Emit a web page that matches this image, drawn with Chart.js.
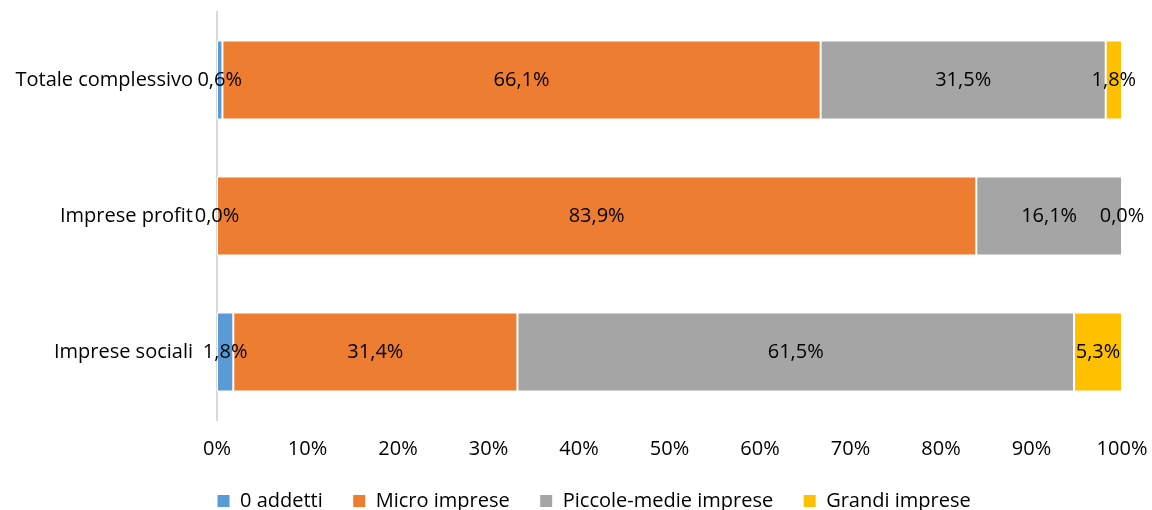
<!DOCTYPE html>
<html>
<head>
<meta charset="utf-8">
<script src="https://cdn.jsdelivr.net/npm/chart.js@4/dist/chart.umd.min.js"></script>
<style>
  html, body { margin: 0; padding: 0; background: #fff; }
  #wrap { width: 1152px; height: 510px; position: relative; }
</style>
</head>
<body>
<div id="wrap"><canvas id="chart"></canvas></div>
<script>
// categories and shares (%) per company size
const categories = ['Totale complessivo', 'Imprese profit', 'Imprese sociali'];
const zeroAddetti = [0.6, 0.0, 1.8];
const microImprese = [66.1, 83.9, 31.4];
const piccoleMedie = [31.5, 16.1, 61.5];
const grandiImprese = [1.8, 0.0, 5.3];
const xTicks = [0, 10, 20, 30, 40, 50, 60, 70, 80, 90, 100];

const FONT = "'Open Sans', 'Noto Sans', sans-serif";
const LEGEND_PAD = 30;

// writes the value in the middle of each segment, e.g. 66,1%
const segmentLabels = {
  id: 'segmentLabels',
  afterDatasetsDraw(chart) {
    const ctx = chart.ctx;
    ctx.save();
    ctx.font = '20px ' + FONT;
    ctx.fillStyle = '#000';
    ctx.textAlign = 'center';
    ctx.textBaseline = 'middle';
    chart.data.datasets.forEach((ds, i) => {
      chart.getDatasetMeta(i).data.forEach((bar, j) => {
        const text = ds.data[j].toFixed(1).replace('.', ',') + '%';
        ctx.fillText(text, (bar.x + bar.base) / 2, bar.y);
      });
    });
    ctx.restore();
  }
};

// short legend strip at the bottom, starting under the plot's left edge
const legendPlacement = {
  id: 'legendPlacement',
  beforeInit(chart) {
    const fit = chart.legend.fit;
    chart.legend.fit = function () {
      fit.call(this);
      this.height = 49;
    };
  },
  afterLayout(chart) {
    const lg = chart.legend;
    const w = lg.right - lg.left;
    lg.left = chart.chartArea.left - LEGEND_PAD;
    lg.right = lg.left + w;
  }
};

// tick labels should not push the plot area inwards
function noEdgePadding(scale) {
  scale.paddingTop = 0;
  scale.paddingBottom = 0;
  scale.paddingLeft = 0;
  scale.paddingRight = 0;
}

function makeSet(label, data, color) {
  return {
    label: label,
    data: data,
    backgroundColor: color,
    borderColor: '#ffffff',
    borderWidth: 1,
    borderSkipped: false,
    barPercentage: 0.58,
    categoryPercentage: 1.0
  };
}

new Chart(document.getElementById('chart'), {
  type: 'bar',
  data: {
    labels: categories,
    datasets: [
      makeSet('0 addetti', zeroAddetti, '#5B9BD5'),
      makeSet('Micro imprese', microImprese, '#ED7D31'),
      makeSet('Piccole-medie imprese', piccoleMedie, '#A5A5A5'),
      makeSet('Grandi imprese', grandiImprese, '#FFC000')
    ]
  },
  options: {
    indexAxis: 'y',
    responsive: true,
    maintainAspectRatio: false,
    animation: false,
    layout: { padding: { left: 0, right: 30, top: 12, bottom: 0 } },
    scales: {
      x: {
        stacked: true,
        min: 0,
        max: 100,
        afterBuildTicks(scale) {
          scale.ticks = xTicks.map(v => ({ value: v }));
        },
        afterFit(scale) {
          noEdgePadding(scale);
          scale.height = 41;
        },
        grid: { display: false, drawTicks: false },
        border: { display: false },
        ticks: {
          padding: 17,
          maxRotation: 0,
          color: '#000',
          font: { family: FONT, size: 20 },
          callback: v => v + '%'
        }
      },
      y: {
        stacked: true,
        afterFit(scale) {
          noEdgePadding(scale);
          scale.width = 217;
        },
        grid: { display: false, drawTicks: false },
        border: { display: true, color: '#d9d9d9', width: 2 },
        ticks: {
          padding: 24,
          color: '#000',
          font: { family: FONT, size: 20 }
        }
      }
    },
    plugins: {
      legend: {
        position: 'bottom',
        align: 'start',
        labels: {
          boxWidth: 13,
          boxHeight: 13,
          padding: LEGEND_PAD,
          color: '#000',
          font: { family: FONT, size: 20 }
        }
      },
      tooltip: { enabled: false }
    }
  },
  plugins: [segmentLabels, legendPlacement]
});
</script>
</body>
</html>
